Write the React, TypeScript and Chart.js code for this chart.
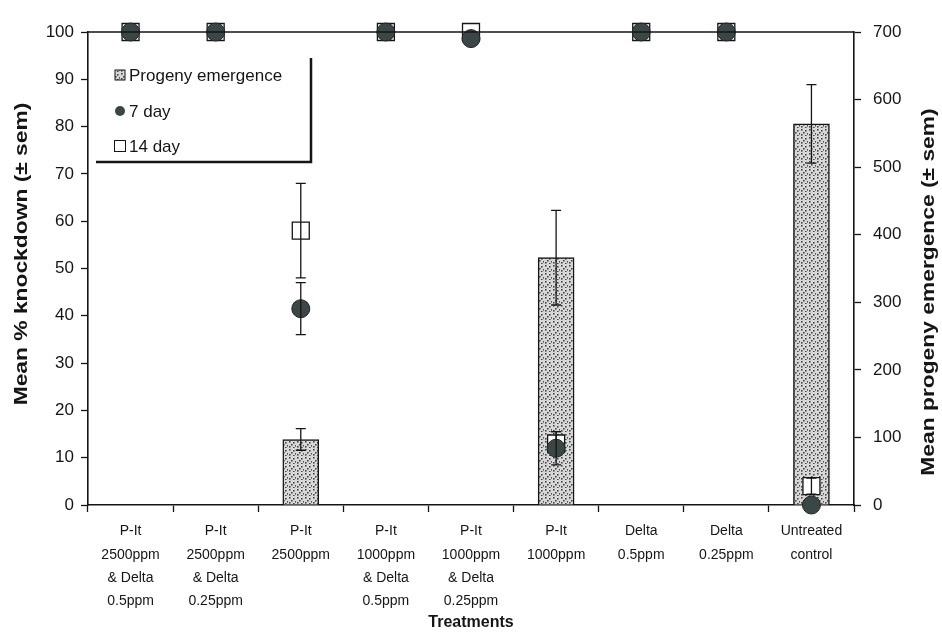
import React, { useEffect, useRef } from "react";
import { Chart, registerables } from "chart.js";

Chart.register(...registerables);

// ---------- data ----------
const categories: string[][] = [
  ["P-It", "2500ppm", "& Delta", "0.5ppm"],
  ["P-It", "2500ppm", "& Delta", "0.25ppm"],
  ["P-It", "2500ppm"],
  ["P-It", "1000ppm", "& Delta", "0.5ppm"],
  ["P-It", "1000ppm", "& Delta", "0.25ppm"],
  ["P-It", "1000ppm"],
  ["Delta", "0.5ppm"],
  ["Delta", "0.25ppm"],
  ["Untreated", "control"],
];

const progeny = [0, 0, 97, 0, 0, 366, 0, 0, 564];
const progenyErr = [0, 0, 16, 0, 0, 70, 0, 0, 58];

const day7 = [100, 100, 41.5, 100, 98.6, 12, 100, 100, 0];
const day7Err = [0, 0, 5.5, 0, 0, 3.5, 0, 0, 0];

const day14 = [100, 100, 58, 100, 100, 13, 100, 100, 4];
const day14Err = [0, 0, 10, 0, 0, 2.5, 0, 0, 1.7];

const leftTicks = [0, 10, 20, 30, 40, 50, 60, 70, 80, 90, 100];
const rightTicks = [0, 100, 200, 300, 400, 500, 600, 700];

const leftTitle = "Mean % knockdown (\u00b1 sem)";
const rightTitle = "Mean progeny emergence (\u00b1 sem)";
const xTitle = "Treatments";

const FONT = "'Liberation Sans', Arial, sans-serif";
const INK = "#151515";

function makePattern(): CanvasPattern | string {
  const c = document.createElement("canvas");
  c.width = 8;
  c.height = 8;
  const g = c.getContext("2d");
  if (!g) return "#c8c8c8";
  g.fillStyle = "#d8d8d8";
  g.fillRect(0, 0, 8, 8);
  g.fillStyle = "#4a4a4a";
  const dots = [
    [1, 1], [5, 2], [3, 4], [7, 5], [1, 6], [5, 7],
  ];
  dots.forEach(([x, y]) => g.fillRect(x, y, 1.6, 1.6));
  const p = g.createPattern(c, "repeat");
  return p || "#c8c8c8";
}

const errorBarPlugin = {
  id: "errorBars",
  afterDatasetDraw(chart: any, args: any) {
    const ds = chart.data.datasets[args.index];
    const errs: number[] | undefined = ds.errors;
    if (!errs) return;
    const meta = args.meta;
    const yScale = chart.scales[meta.yAxisID];
    const ctx = chart.ctx;
    ctx.save();
    ctx.strokeStyle = INK;
    ctx.lineWidth = 1.3;
    meta.data.forEach((el: any, i: number) => {
      const e = errs[i];
      const v = ds.data[i];
      if (!e || v == null) return;
      const x = el.x;
      const yT = yScale.getPixelForValue(v + e);
      const yB = yScale.getPixelForValue(v - e);
      ctx.beginPath();
      ctx.moveTo(x, yT);
      ctx.lineTo(x, yB);
      ctx.moveTo(x - 5, yT);
      ctx.lineTo(x + 5, yT);
      ctx.moveTo(x - 5, yB);
      ctx.lineTo(x + 5, yB);
      ctx.stroke();
    });
    ctx.restore();
  },
};

function drawVerticalTitle(ctx: CanvasRenderingContext2D, text: string, x: number, y: number) {
  ctx.save();
  ctx.translate(x, y);
  ctx.rotate(-Math.PI / 2);
  ctx.scale(1.2, 1);
  ctx.font = `bold 19px ${FONT}`;
  ctx.fillStyle = INK;
  ctx.textAlign = "center";
  ctx.textBaseline = "middle";
  ctx.fillText(text, 0, 0);
  ctx.restore();
}

const framePlugin = {
  id: "frameAndLegend",
  afterDraw(chart: any) {
    const ctx = chart.ctx;
    const a = chart.chartArea;
    ctx.save();
    // top border
    ctx.strokeStyle = INK;
    ctx.lineWidth = 1.6;
    ctx.beginPath();
    ctx.moveTo(a.left, a.top);
    ctx.lineTo(a.right, a.top);
    ctx.stroke();

    // axis titles
    drawVerticalTitle(ctx, leftTitle, 22, 254);
    drawVerticalTitle(ctx, rightTitle, 929, 292);

    // legend box (right + bottom borders)
    const bx0 = 96, bx1 = 311, by0 = 58, by1 = 162;
    ctx.lineWidth = 2.5;
    ctx.beginPath();
    ctx.moveTo(bx1, by0);
    ctx.lineTo(bx1, by1);
    ctx.lineTo(bx0, by1);
    ctx.stroke();

    const ds = chart.data.datasets;
    const rows = [75, 111, 146];
    const ix = 120;
    ctx.font = `17px ${FONT}`;
    ctx.textAlign = "left";
    ctx.textBaseline = "middle";
    // progeny icon
    ctx.fillStyle = ds[0].backgroundColor;
    ctx.fillRect(ix - 5, rows[0] - 5, 10, 10);
    ctx.lineWidth = 1;
    ctx.strokeStyle = INK;
    ctx.strokeRect(ix - 5, rows[0] - 5, 10, 10);
    // 7 day icon
    ctx.fillStyle = "#3b4746";
    ctx.beginPath();
    ctx.arc(ix, rows[1], 5, 0, Math.PI * 2);
    ctx.fill();
    // 14 day icon
    ctx.fillStyle = "#fff";
    ctx.fillRect(ix - 5.5, rows[2] - 5.5, 11, 11);
    ctx.strokeRect(ix - 5.5, rows[2] - 5.5, 11, 11);

    ctx.fillStyle = INK;
    ds.forEach((d: any, i: number) => {
      ctx.fillText(d.label, ix + 9, rows[i] + 1);
    });
    ctx.restore();
  },
};

export default function App() {
  const ref = useRef<HTMLCanvasElement>(null);

  useEffect(() => {
    document.body.style.margin = "0";
    const canvas = ref.current;
    if (!canvas) return;
    const pattern = makePattern();

    const chart = new Chart(canvas, {
      type: "bar",
      data: {
        labels: categories as any,
        datasets: [
          {
            type: "bar",
            label: "Progeny emergence",
            data: progeny,
            yAxisID: "y1",
            backgroundColor: pattern as any,
            borderColor: INK,
            borderWidth: 1.5,
            barThickness: 36,
            order: 3,
            errors: progenyErr,
          } as any,
          {
            type: "line",
            label: "7 day",
            data: day7,
            yAxisID: "y",
            showLine: false,
            pointStyle: "circle",
            pointRadius: 9,
            pointBackgroundColor: "#3b4746",
            pointBorderColor: "#1f2726",
            pointBorderWidth: 1,
            clip: false,
            order: 1,
            errors: day7Err,
          } as any,
          {
            type: "line",
            label: "14 day",
            data: day14,
            yAxisID: "y",
            showLine: false,
            pointStyle: "rect",
            pointRadius: 12,
            pointBackgroundColor: "#ffffff",
            pointBorderColor: INK,
            pointBorderWidth: 1.3,
            clip: false,
            order: 2,
            errors: day14Err,
          } as any,
        ],
      },
      options: {
        responsive: false,
        animation: false,
        devicePixelRatio: 1,
        layout: { padding: { top: 32, left: 0, right: 0, bottom: 0 } },
        plugins: {
          legend: { display: false },
          tooltip: { enabled: false },
        },
        scales: {
          x: {
            offset: true,
            grid: {
              offset: true,
              drawOnChartArea: false,
              drawTicks: true,
              tickLength: 7,
              tickColor: INK,
              tickWidth: 1.3,
            },
            border: { display: true, color: INK, width: 1.6 },
            ticks: {
              color: INK,
              padding: 8,
              maxRotation: 0,
              autoSkip: false,
              font: { family: FONT, size: 14, lineHeight: 1.65 },
            },
            title: {
              display: true,
              text: xTitle,
              color: INK,
              font: { family: FONT, size: 16, weight: "bold" },
              padding: { top: 0, bottom: 0 },
            },
            afterFit: (s: any) => {
              s.height = 127;
            },
          },
          y: {
            position: "left",
            min: 0,
            max: 100,
            afterBuildTicks: (s: any) => {
              s.ticks = leftTicks.map((v) => ({ value: v }));
            },
            grid: {
              drawOnChartArea: false,
              drawTicks: true,
              tickLength: 7,
              tickColor: INK,
              tickWidth: 1.3,
            },
            border: { display: true, color: INK, width: 1.6 },
            ticks: {
              color: INK,
              padding: 7,
              font: { family: FONT, size: 17 },
            },
            afterFit: (s: any) => {
              s.width = 88;
            },
          },
          y1: {
            position: "right",
            min: 0,
            max: 700,
            afterBuildTicks: (s: any) => {
              s.ticks = rightTicks.map((v) => ({ value: v }));
            },
            grid: {
              drawOnChartArea: false,
              drawTicks: true,
              tickLength: 7,
              tickColor: INK,
              tickWidth: 1.3,
            },
            border: { display: true, color: INK, width: 1.6 },
            ticks: {
              color: INK,
              padding: 12,
              font: { family: FONT, size: 17 },
            },
            afterFit: (s: any) => {
              s.width = 88;
            },
          },
        },
      } as any,
      plugins: [errorBarPlugin, framePlugin],
    });

    return () => chart.destroy();
  }, []);

  return (
    <div style={{ width: 942, height: 632 }}>
      <canvas ref={ref} width={942} height={632} style={{ display: "block" }} />
    </div>
  );
}
